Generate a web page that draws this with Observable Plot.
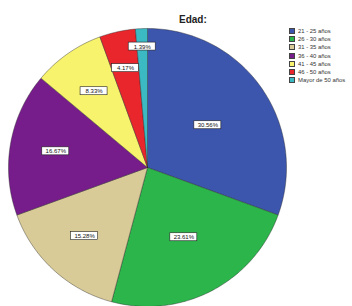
<!DOCTYPE html>
<html><head><meta charset="utf-8">
<script src="https://cdn.jsdelivr.net/npm/d3@7"></script>
<script src="https://cdn.jsdelivr.net/npm/@observablehq/plot@0.6"></script>
<style>
body{margin:0;background:#fff;font-family:"Liberation Sans",Arial,sans-serif;}
#wrap{position:relative;width:352px;height:306px;}
#chart{position:absolute;left:0;top:0;}
#title{position:absolute;left:179px;top:14px;font-weight:bold;font-size:10px;color:#222;}
#legend{position:absolute;left:289px;top:27px;font-size:5.9px;color:#333;white-space:nowrap;}
.row{display:flex;align-items:center;height:8.2px;}
.sw{width:6px;height:6px;margin-right:3px;border:0.5px solid #444;box-sizing:border-box;}
</style></head><body>
<div id="wrap"><div id="chart"></div><div id="title">Edad:</div><div id="legend"></div></div>
<script>
const categories = ["21 - 25 años","26 - 30 años","31 - 35 años","36 - 40 años","41 - 45 años","46 - 50 años","Mayor de 50 años"];
const percents = [30.56, 23.61, 15.28, 16.67, 8.33, 4.17, 1.39];
const labels = ["30.56%","23.61%","15.28%","16.67%","8.33%","4.17%","1.39%"];
const colors = ["#3c55ad","#2bb54b","#d9cb97","#761c8b","#f8f36c","#e8262c","#3bbac4"];

const arcs = d3.pie().sort(null).value(d => d)(percents);
const maxShare = d3.max(percents);
const poly = [];
const labs = [];
const kx = 2 / 278; // data units per pixel
arcs.forEach((a, i) => {
  const cat = categories[i];
  poly.push({cat, x: 0, y: 0});
  const n = Math.max(4, Math.ceil((a.endAngle - a.startAngle) / 0.02));
  for (let j = 0; j <= n; j++) {
    const t = a.startAngle + (a.endAngle - a.startAngle) * j / n;
    poly.push({cat, x: Math.sin(t), y: Math.cos(t)});
  }
  poly.push({cat, x: 0, y: 0});
  const mid = (a.startAngle + a.endAngle) / 2;
  const share = percents[i] / maxShare;
  const lr = 0.53 + 0.14 * Math.pow(Math.min(1, (1 - share) / 0.45), 2)
           + 0.3 * Math.pow(Math.max(0, (0.25 - share) / 0.25), 2);
  labs.push({cat, label: labels[i], x: lr * Math.sin(mid), y: lr * Math.cos(mid)});
});

const chart = Plot.plot({
  width: 352, height: 306,
  margin: 0,
  x: {domain: [-1, 1], range: [8, 286], axis: null},
  y: {domain: [-1, 1], range: [306, 28], axis: null},
  color: {domain: categories, range: colors},
  style: {background: "transparent"},
  marks: [
    Plot.line(poly, {x: "x", y: "y", z: "cat", fill: "cat", stroke: "#2a2a2a", strokeWidth: 0.6, strokeOpacity: 0.7, curve: "linear"}),
    Plot.rect(labs, {x1: d => d.x - 13.5 * kx, x2: d => d.x + 13.5 * kx, y1: d => d.y - 4 * kx, y2: d => d.y + 4 * kx, fill: "white", stroke: "#222", strokeWidth: 0.6}),
    Plot.text(labs, {x: "x", y: "y", text: "label", fontSize: 6, fill: "#111", fontFamily: "Liberation Sans, Arial, sans-serif"})
  ]
});
document.getElementById("chart").appendChild(chart);

const lg = document.getElementById("legend");
categories.forEach((c, i) => {
  const row = document.createElement("div");
  row.className = "row";
  const sw = document.createElement("span");
  sw.className = "sw";
  sw.style.background = colors[i];
  const tx = document.createElement("span");
  tx.textContent = c;
  row.appendChild(sw); row.appendChild(tx);
  lg.appendChild(row);
});
</script>
</body></html>
